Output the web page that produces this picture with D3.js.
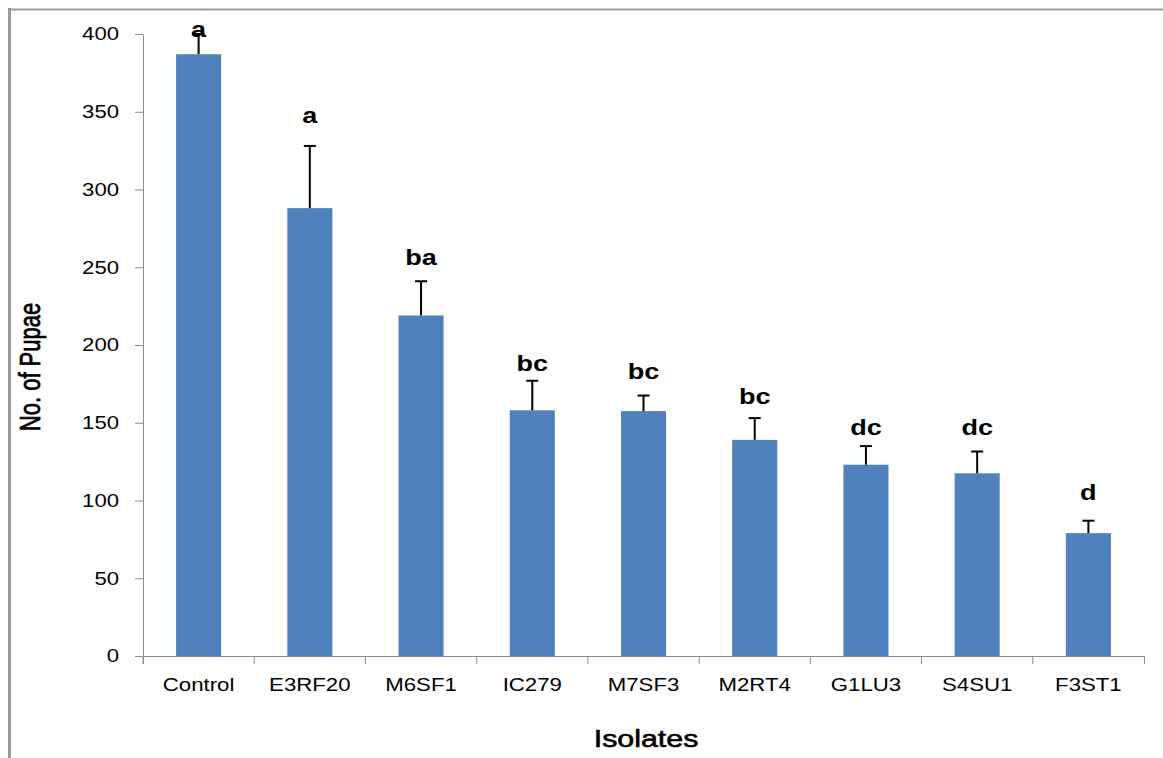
<!DOCTYPE html>
<html>
<head>
<meta charset="utf-8">
<script src="https://cdn.jsdelivr.net/npm/d3@7"></script>
<style>
  body { margin: 0; background: #fff; }
  svg { display: block; font-family: "Liberation Sans", Arial, sans-serif; }
</style>
</head>
<body>
<svg id="canvas"></svg>
<script>
const width = 1163, height = 758;

/* chart data */
const isolates = ["Control", "E3RF20", "M6SF1", "IC279", "M7SF3", "M2RT4", "G1LU3", "S4SU1", "F3ST1"];
const pupae = [387, 288, 219, 158, 157.5, 139, 123, 117.5, 79];
const errors = [13, 40, 22, 19, 10, 14, 12, 14, 8];
const letters = ["a", "a", "ba", "bc", "bc", "bc", "dc", "dc", "d"];
const letterAt = [398.3, 342.8, 251.4, 183.5, 178, 162, 142, 142, 100.3];
const yTicks = [0, 50, 100, 150, 200, 250, 300, 350, 400];

const barColor = "#4f81bd";
const axisColor = "#8c8c8c";
const stretch = 1.23;   // source picture is stretched sideways

const svg = d3.select("#canvas")
    .attr("width", width)
    .attr("height", height);

/* frame lines */
svg.append("line")
    .attr("x1", 9.5).attr("x2", 9.5)
    .attr("y1", 8).attr("y2", height)
    .attr("stroke", "#999").attr("stroke-width", 3);
svg.append("line")
    .attr("x1", 8).attr("x2", width)
    .attr("y1", 9.5).attr("y2", 9.5)
    .attr("stroke", "#999").attr("stroke-width", 2);

/* scales */
const x = d3.scaleBand()
    .domain(isolates)
    .range([143, 1144])
    .paddingInner(0.595)
    .paddingOuter(0.2975);

const y = d3.scaleLinear()
    .domain([0, 400])
    .range([656, 34]);

/* bars */
svg.append("g")
    .selectAll("rect")
    .data(isolates)
    .join("rect")
    .attr("x", d => x(d))
    .attr("y", (d, i) => y(pupae[i]))
    .attr("width", x.bandwidth())
    .attr("height", (d, i) => y(0) - y(pupae[i]))
    .attr("fill", barColor);

/* error bars */
const err = svg.append("g")
    .attr("stroke", "#000")
    .attr("stroke-width", 2)
    .selectAll("g")
    .data(isolates)
    .join("g")
    .attr("transform", d => `translate(${x(d) + x.bandwidth() / 2},0)`);

err.append("line")
    .attr("y1", (d, i) => y(pupae[i]))
    .attr("y2", (d, i) => y(pupae[i] + errors[i]));
err.append("line")
    .attr("x1", -6).attr("x2", 6)
    .attr("y1", (d, i) => y(pupae[i] + errors[i]))
    .attr("y2", (d, i) => y(pupae[i] + errors[i]));

/* significance letters */
svg.append("g")
    .selectAll("text")
    .data(isolates)
    .join("text")
    .attr("transform", (d, i) => `translate(${x(d) + x.bandwidth() / 2},${y(letterAt[i])}) scale(${stretch},1)`)
    .attr("text-anchor", "middle")
    .attr("font-size", 22)
    .attr("font-weight", "bold")
    .attr("fill", "#000")
    .text((d, i) => letters[i]);

/* y axis */
const yAxis = svg.append("g")
    .attr("transform", "translate(143,0)")
    .call(d3.axisLeft(y).tickValues(yTicks).tickSize(8).tickSizeOuter(0).tickPadding(0));
yAxis.select(".domain").attr("stroke", axisColor);
yAxis.selectAll(".tick line").attr("stroke", axisColor);
yAxis.selectAll(".tick text")
    .attr("x", null)
    .attr("transform", `translate(-24,0) scale(${stretch},1)`)
    .attr("font-size", 18)
    .attr("font-family", "'Liberation Sans', Arial, sans-serif")
    .attr("fill", "#000");

/* x axis */
const xAxis = svg.append("g")
    .attr("transform", "translate(0,656)")
    .call(d3.axisBottom(x).tickSize(0).tickSizeOuter(8).tickPadding(22));
xAxis.select(".domain").attr("stroke", axisColor);
xAxis.selectAll(".tick text")
    .attr("transform", `scale(1.17,1)`)
    .attr("font-size", 19)
    .attr("font-family", "'Liberation Sans', Arial, sans-serif")
    .attr("fill", "#000");

// tick marks sit between the bars
xAxis.append("g")
    .selectAll("line")
    .data(isolates)
    .join("line")
    .attr("x1", d => x(d) - x.step() * x.paddingInner() / 2)
    .attr("x2", d => x(d) - x.step() * x.paddingInner() / 2)
    .attr("y1", 0).attr("y2", 8)
    .attr("stroke", axisColor);

/* axis titles */
svg.append("text")
    .attr("transform", `translate(40,367) scale(1.3,1) rotate(-90)`)
    .attr("text-anchor", "middle")
    .attr("font-size", 22)
    .attr("fill", "#000")
    .attr("stroke", "#000")
    .attr("stroke-width", 0.6)
    .text("No. of Pupae");

svg.append("text")
    .attr("transform", `translate(646,746.5) scale(1.24,1)`)
    .attr("text-anchor", "middle")
    .attr("font-size", 24.5)
    .attr("fill", "#000")
    .attr("stroke", "#000")
    .attr("stroke-width", 0.6)
    .text("Isolates");
</script>
</body>
</html>
